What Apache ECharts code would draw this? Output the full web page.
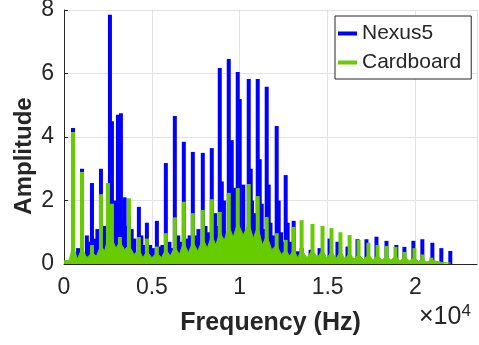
<!DOCTYPE html>
<html>
<head>
<meta charset="utf-8">
<script src="https://cdn.jsdelivr.net/npm/echarts@6/dist/echarts.min.js"></script>
<style>
  html, body { margin: 0; padding: 0; background: #fff; }
  #chart { width: 479px; height: 345px; }
</style>
</head>
<body>
<div id="chart"></div>
<script>
  // Nexus5 - main harmonic peaks (Hz, amplitude)
  var blueFreq = [511, 1023, 1591, 2102, 2614, 2727, 3068, 3239, 3693, 4261, 4716, 5284, 5795, 6306, 6818, 7330,
    7898, 8409, 8863, 8978, 9375, 9545, 9886, 10000, 10511, 10625, 11023, 11136, 11534, 11648, 12102, 12216,
    12614, 12727, 13068, 13520, 14030, 14540, 15110, 15560, 16130, 16700, 17210, 17780, 18350, 18910, 19370,
    19880, 20390, 20960, 21470, 21980];
  var blueAmp = [4.28, 3.0, 2.55, 3.0, 7.85, 4.5, 4.7, 4.75, 1.5, 1.8, 1.3, 1.36, 3.18, 4.66, 3.85, 3.53,
    3.5, 3.65, 6.17, 2.6, 6.46, 3.9, 6.05, 5.2, 5.83, 3.0, 5.83, 3.3, 5.58, 2.5, 4.35, 2.0,
    2.8, 1.3, 1.36, 0.5, 0.45, 0.5, 0.8, 0.7, 0.55, 0.78, 0.78, 0.86, 0.73, 0.6, 0.54,
    0.73, 0.78, 0.67, 0.5, 0.41];
  // Nexus5 - low level spikes between harmonics
  var blueNoiseFreq = [800, 1300, 1450, 1800, 1900, 2300, 2450, 2850, 2950, 3350, 3450, 3550, 3850, 4000, 4400,
    4550, 4900, 5050, 5450, 5600, 6000, 6100, 6500, 6650, 7000, 7150, 7500, 7650, 8050, 8200, 8600, 8700,
    9100, 9700, 10200, 10700, 10850, 11250, 11400, 11750, 11900, 12350, 12450, 12850, 13300];
  var blueNoiseAmp = [0.5, 0.9, 0.7, 0.8, 1.1, 1.2, 1.0, 2.0, 1.4, 1.4, 2.1, 1.2, 1.1, 0.8, 0.9,
    0.6, 0.6, 0.5, 0.55, 0.6, 0.7, 0.5, 0.9, 0.7, 0.8, 0.9, 0.9, 1.1, 1.2, 1.0, 1.6, 1.2,
    2.0, 2.4, 2.5, 2.0, 1.6, 1.9, 1.1, 1.3, 0.9, 1.0, 0.7, 0.7, 0.4];
  // Cardboard - harmonic peaks
  var greenFreq = [511, 1023, 1591, 2102, 2500, 2727, 3181, 3693, 4261, 4716, 5284, 5795, 6306, 6818, 7330,
    7898, 8409, 8863, 9375, 9886, 10511, 11023, 11534, 12102, 12614, 13068, 13520, 14140, 14710, 15220,
    15730, 16250, 16760, 17320, 17840, 18350, 18860, 19370, 19940, 20390, 20900];
  var greenAmp = [4.16, 2.9, 0.6, 2.2, 2.55, 1.9, 0.85, 2.07, 0.85, 0.8, 0.55, 0.97, 1.47, 1.96, 1.6,
    1.7, 2.04, 1.64, 2.24, 2.39, 2.52, 2.14, 1.48, 0.97, 0.76, 1.17, 1.38, 1.26, 1.2, 1.13,
    1.0, 0.91, 0.76, 0.67, 0.6, 0.57, 0.54, 0.38, 0.5, 0.3, 0.2];
  // Cardboard - broadband floor (bases of the harmonics and the valleys between)
  var floorFreq = [0, 300, 511, 760, 1023, 1300, 1591, 1850, 2102, 2300, 2500, 2620, 2727, 2950, 3181, 3450,
    3693, 3980, 4261, 4490, 4716, 5000, 5284, 5540, 5795, 6050, 6306, 6560, 6818, 7070, 7330, 7610,
    7898, 8150, 8409, 8640, 8863, 9120, 9375, 9630, 9886, 10200, 10511, 10770, 11023, 11280, 11534, 11820,
    12102, 12360, 12614, 12840, 13068, 13300, 13520, 13830, 14140, 14420, 14710, 14960, 15220, 15480,
    15730, 15990, 16250, 16500, 16760, 17040, 17320, 17580, 17840, 18100, 18350, 18600, 18860, 19110,
    19370, 19650, 19940, 20160, 20390, 20650, 20900, 21500, 22000];
  var floorAmp = [0.1, 0.12, 0.6, 0.15, 0.5, 0.2, 0.35, 0.25, 0.6, 0.4, 0.8, 0.6, 0.8, 0.5, 0.7, 0.45,
    0.6, 0.3, 0.45, 0.2, 0.4, 0.2, 0.35, 0.2, 0.45, 0.25, 0.55, 0.3, 0.7, 0.35, 0.7, 0.4,
    0.8, 0.5, 0.9, 0.6, 1.0, 0.75, 1.2, 0.85, 1.3, 0.9, 1.3, 0.8, 1.2, 0.6, 0.9, 0.45,
    0.6, 0.3, 0.45, 0.25, 0.45, 0.2, 0.45, 0.2, 0.45, 0.2, 0.45, 0.18, 0.4, 0.17,
    0.4, 0.16, 0.35, 0.15, 0.3, 0.14, 0.3, 0.13, 0.28, 0.12, 0.26, 0.12, 0.25, 0.1,
    0.22, 0.1, 0.2, 0.08, 0.15, 0.06, 0.12, 0.05, 0.03];
  var xTicks = [0, 5000, 10000, 15000, 20000];

  var BLUE = '#0000ff', GREEN = '#66cc00', INK = '#262626';
  var FONT = '"Liberation Sans", Arial, sans-serif';

  function pairs(xs, ys) {
    return xs.map(function (x, i) { return [x, ys[i]]; });
  }

  var chart = echarts.init(document.getElementById('chart'));
  var option = {
    animation: false,
    textStyle: { fontFamily: FONT },
    grid: { left: 64, top: 10, right: 2, bottom: 81, outerBoundsMode: 'none', containLabel: false },
    legend: {
      data: ['Nexus5', 'Cardboard'],
      left: 335, top: 16, orient: 'vertical',
      icon: 'rect', itemWidth: 19, itemHeight: 4, itemGap: 8,
      padding: [7, 10, 6, 3],
      borderColor: INK, borderWidth: 1, backgroundColor: '#fff',
      textStyle: { fontSize: 21, color: INK, fontFamily: FONT }
    },
    xAxis: {
      type: 'value', min: 0, max: 23500, interval: 5000,
      name: 'Frequency (Hz)', nameLocation: 'middle', nameGap: 47,
      nameTextStyle: { fontSize: 25, fontWeight: 'bold', color: INK, fontFamily: FONT },
      axisLine: { lineStyle: { color: INK } },
      axisTick: { inside: true, length: 4, lineStyle: { color: INK } },
      axisLabel: {
        fontSize: 23, color: INK, margin: 12, showMaxLabel: false,
        formatter: function (v) { return xTicks.indexOf(v) >= 0 ? String(v / 10000) : ''; }
      },
      splitLine: { show: true, lineStyle: { color: '#e3e3e3' } }
    },
    yAxis: {
      type: 'value', min: 0, max: 8, interval: 2,
      axisLine: { show: true, lineStyle: { color: INK } },
      axisTick: { show: true, inside: true, length: 4, lineStyle: { color: INK } },
      axisLabel: { fontSize: 23, color: INK, margin: 10 },
      splitLine: { show: true, lineStyle: { color: '#e3e3e3' } }
    },
    graphic: [
      {
        // y axis title
        type: 'text', x: 24, y: 156, rotation: Math.PI / 2,
        style: {
          text: 'Amplitude', fontSize: 24, fontWeight: 'bold', fill: INK, fontFamily: FONT,
          align: 'center', verticalAlign: 'middle'
        }
      },
      {
        type: 'text', left: 419, top: 303,
        style: {
          text: '{a|×10}{b|4}',
          rich: {
            a: { fontSize: 25, fill: INK, fontFamily: FONT },
            b: { fontSize: 17, fill: INK, fontFamily: FONT, verticalAlign: 'top', padding: [0, 0, 12, 0] }
          }
        }
      }
    ],
    series: [
      {
        name: 'Nexus5', type: 'bar', barWidth: 4, barGap: '-100%',
        itemStyle: { color: BLUE }, data: pairs(blueNoiseFreq, blueNoiseAmp)
      },
      {
        name: 'Nexus5', type: 'bar', barWidth: 4, barGap: '-100%',
        itemStyle: { color: BLUE }, data: pairs(blueFreq, blueAmp)
      },
      {
        name: 'Cardboard', type: 'line', showSymbol: false, smooth: false,
        lineStyle: { color: GREEN, width: 1 }, itemStyle: { color: GREEN },
        areaStyle: { color: GREEN, opacity: 1 }, data: pairs(floorFreq, floorAmp)
      },
      {
        name: 'Cardboard', type: 'bar', barWidth: 4, barGap: '-100%',
        itemStyle: { color: GREEN }, data: pairs(greenFreq, greenAmp)
      }
    ]
  };
  chart.setOption(option);
</script>
</body>
</html>
